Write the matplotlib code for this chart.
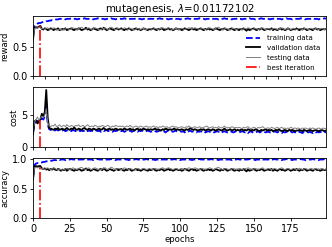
import matplotlib
matplotlib.use("Agg")
import matplotlib.pyplot as plt
import matplotlib.ticker as mticker
import numpy as np

title = r"mutagenesis, $\lambda$=0.01172102"
best_iter = 5
xticks = [0, 25, 50, 75, 100, 125, 150, 175]

reward_train = [
    0.75,0.86,0.88,0.89,0.90,0.90,0.91,0.92,0.92,0.93,0.93,0.94,0.94,0.95,0.95,0.96,0.96,0.96,0.97,0.97,
    0.97,0.97,0.96,0.97,0.97,0.97,0.98,0.97,0.97,0.97,0.96,0.97,0.97,0.97,0.97,0.98,0.97,0.97,0.97,0.97,
    0.97,0.96,0.97,0.97,0.98,0.97,0.97,0.97,0.97,0.96,0.97,0.97,0.97,0.98,0.97,0.97,0.96,0.97,0.97,0.97,
    0.97,0.97,0.98,0.97,0.97,0.96,0.97,0.97,0.97,0.97,0.98,0.97,0.97,0.97,0.96,0.97,0.97,0.98,0.97,0.97,
    0.97,0.97,0.97,0.96,0.97,0.97,0.98,0.97,0.97,0.97,0.97,0.97,0.96,0.97,0.97,0.97,0.98,0.97,0.97,0.97,
    0.96,0.97,0.97,0.97,0.97,0.98,0.97,0.97,0.96,0.97,0.97,0.97,0.97,0.98,0.97,0.97,0.97,0.96,0.97,0.97,
    0.97,0.98,0.97,0.97,0.97,0.97,0.96,0.97,0.97,0.97,0.98,0.97,0.97,0.97,0.97,0.96,0.97,0.97,0.97,0.98,
    0.97,0.97,0.96,0.97,0.97,0.97,0.97,0.98,0.97,0.97,0.97,0.96,0.97,0.97,0.97,0.98,0.97,0.97,0.97,0.97,
    0.97,0.96,0.97,0.97,0.98,0.97,0.97,0.97,0.97,0.96,0.97,0.97,0.98,0.97,0.97,0.97,0.96,0.97,0.97,0.97,
    0.97,0.97,0.98,0.97,0.97,0.96,0.97,0.97,0.97,0.97,0.98,0.97,0.97,0.97,0.96,0.97,0.97,0.97,0.98,0.97,
]
reward_val = [
    0.62,0.82,0.83,0.82,0.84,0.85,0.80,0.79,0.81,0.80,0.78,0.79,0.81,0.80,0.78,0.80,0.79,0.81,0.78,0.79,
    0.80,0.79,0.81,0.78,0.79,0.80,0.81,0.79,0.78,0.80,0.79,0.81,0.80,0.78,0.79,0.80,0.82,0.79,0.80,0.78,
    0.79,0.81,0.80,0.79,0.78,0.80,0.81,0.79,0.82,0.80,0.78,0.79,0.81,0.80,0.79,0.78,0.80,0.81,0.79,0.80,
    0.81,0.79,0.78,0.80,0.79,0.81,0.80,0.78,0.79,0.80,0.81,0.79,0.80,0.78,0.79,0.81,0.80,0.79,0.78,0.80,
    0.79,0.80,0.81,0.79,0.78,0.80,0.79,0.81,0.80,0.78,0.79,0.80,0.81,0.79,0.80,0.78,0.79,0.81,0.80,0.79,
    0.80,0.78,0.79,0.81,0.80,0.79,0.78,0.80,0.81,0.79,0.80,0.78,0.79,0.80,0.81,0.79,0.78,0.80,0.79,0.81,
    0.79,0.80,0.78,0.79,0.81,0.80,0.79,0.78,0.80,0.79,0.81,0.80,0.78,0.79,0.80,0.81,0.79,0.78,0.80,0.79,
    0.78,0.80,0.79,0.81,0.79,0.77,0.80,0.78,0.79,0.80,0.81,0.79,0.78,0.80,0.79,0.81,0.80,0.78,0.79,0.80,
    0.80,0.79,0.81,0.78,0.80,0.79,0.78,0.80,0.81,0.79,0.80,0.78,0.79,0.81,0.80,0.78,0.79,0.80,0.79,0.81,
    0.79,0.78,0.80,0.79,0.81,0.80,0.78,0.79,0.80,0.79,0.78,0.80,0.81,0.79,0.80,0.78,0.79,0.80,0.79,0.80,
]
reward_test = [
    0.65,0.80,0.82,0.81,0.83,0.82,0.80,0.81,0.79,0.81,0.82,0.80,0.79,0.80,0.82,0.81,0.79,0.78,0.80,0.79,
    0.78,0.79,0.80,0.81,0.80,0.79,0.80,0.82,0.81,0.80,0.79,0.81,0.82,0.83,0.81,0.80,0.79,0.81,0.82,0.80,
    0.79,0.81,0.82,0.81,0.80,0.78,0.79,0.80,0.81,0.82,0.80,0.79,0.81,0.83,0.82,0.80,0.79,0.80,0.81,0.80,
    0.79,0.80,0.82,0.81,0.80,0.79,0.81,0.80,0.79,0.78,0.80,0.81,0.80,0.79,0.80,0.81,0.80,0.79,0.80,0.81,
    0.80,0.79,0.80,0.81,0.80,0.79,0.80,0.81,0.82,0.81,0.80,0.81,0.82,0.81,0.80,0.79,0.80,0.81,0.80,0.79,
    0.80,0.81,0.80,0.79,0.80,0.81,0.82,0.81,0.80,0.81,0.82,0.81,0.80,0.79,0.80,0.81,0.80,0.79,0.80,0.81,
    0.82,0.81,0.80,0.79,0.81,0.82,0.83,0.81,0.80,0.79,0.80,0.81,0.80,0.79,0.78,0.80,0.81,0.80,0.79,0.80,
    0.81,0.80,0.79,0.80,0.81,0.80,0.82,0.81,0.80,0.79,0.80,0.81,0.80,0.79,0.80,0.81,0.82,0.80,0.79,0.80,
    0.81,0.80,0.79,0.80,0.81,0.80,0.79,0.80,0.81,0.82,0.80,0.79,0.80,0.81,0.80,0.79,0.80,0.81,0.80,0.79,
    0.80,0.81,0.80,0.79,0.80,0.81,0.80,0.79,0.80,0.81,0.80,0.79,0.81,0.80,0.79,0.80,0.81,0.80,0.79,0.80,
]

cost_train = [
    2.3,3.6,4.0,4.1,3.8,4.2,4.5,4.3,4.8,6.5,3.5,2.8,2.7,2.6,2.7,2.6,2.8,2.6,2.7,2.5,
    2.6,2.7,2.5,2.6,2.7,2.6,2.5,2.7,2.6,2.5,2.6,2.7,2.5,2.6,2.5,2.6,2.7,2.5,2.6,2.5,
    2.6,2.5,2.7,2.6,2.5,2.6,2.4,2.6,2.5,2.6,2.7,2.5,2.6,2.5,2.4,2.6,2.5,2.6,2.5,2.6,
    2.5,2.6,2.4,2.5,2.6,2.5,2.6,2.4,2.5,2.6,2.5,2.4,2.6,2.5,2.6,2.5,2.4,2.5,2.6,2.5,
    2.4,2.5,2.6,2.5,2.4,2.5,2.6,2.5,2.4,2.5,2.3,2.5,2.6,2.4,2.5,2.4,2.5,2.6,2.4,2.5,
    2.5,2.4,2.5,2.3,2.5,2.4,2.5,2.6,2.4,2.5,2.4,2.3,2.5,2.4,2.5,2.4,2.5,2.3,2.4,2.5,
    2.4,2.5,2.4,2.3,2.4,2.5,2.4,2.5,2.3,2.4,2.5,2.4,2.3,2.4,2.5,2.4,2.3,2.4,2.5,2.4,
    2.3,2.4,2.5,2.4,2.3,2.4,2.2,2.4,2.5,2.3,2.4,2.3,2.4,2.5,2.3,2.4,2.3,2.4,2.3,2.4,
    2.4,2.3,2.4,2.3,2.5,2.4,2.3,2.4,2.3,2.2,2.4,2.3,2.4,2.3,2.4,2.5,2.3,2.4,2.3,2.4,
    2.3,2.4,2.3,2.2,2.4,2.3,2.4,2.3,2.4,2.3,2.2,2.4,2.3,2.4,2.3,2.4,2.3,2.2,2.4,2.3,
]
cost_val = [
    2.0,4.0,4.2,3.7,4.1,4.3,5.2,4.8,5.5,8.9,4.5,3.0,2.9,2.8,2.7,2.9,2.8,3.0,2.7,2.8,
    2.9,2.7,2.8,3.0,2.8,2.7,2.9,2.8,3.1,2.8,2.7,2.9,2.8,2.7,2.9,3.0,2.8,2.7,2.9,2.8,
    2.7,2.9,2.8,2.7,2.8,2.9,2.7,2.8,3.0,2.8,2.7,2.8,2.9,2.7,2.8,2.7,2.9,2.8,2.7,2.8,
    2.8,2.7,2.9,2.8,2.7,2.8,2.9,2.7,2.8,2.6,2.8,2.9,2.7,2.8,2.7,2.9,2.8,2.7,2.8,2.7,
    2.8,2.7,2.8,2.9,2.7,2.8,2.7,2.6,2.8,2.7,2.9,2.8,2.7,2.8,2.7,2.8,2.9,2.7,2.8,2.7,
    2.7,2.8,2.7,2.6,2.8,2.7,2.8,3.0,2.8,2.7,2.8,2.7,2.6,2.7,2.8,2.7,2.8,2.6,2.7,2.8,
    2.7,2.6,2.8,2.7,2.6,2.7,2.8,2.7,2.6,2.7,2.9,2.7,2.6,2.7,2.8,2.6,2.7,2.8,2.6,2.7,
    2.6,2.7,2.8,2.6,2.7,2.6,2.8,2.7,2.6,2.7,2.6,2.8,2.7,2.6,2.5,2.7,2.6,2.7,2.8,2.6,
    2.7,2.6,2.7,2.5,2.6,2.7,2.6,2.8,2.6,2.5,2.6,2.7,2.6,2.5,2.7,2.6,2.7,2.6,2.5,2.6,
    2.6,2.7,2.6,2.5,2.7,2.6,2.5,2.6,2.7,2.6,2.5,2.6,2.7,2.6,2.5,2.6,2.7,2.6,2.5,2.6,
]
cost_test = [
    2.5,3.8,4.3,4.7,4.2,4.5,4.8,4.6,5.0,6.0,3.8,3.3,3.2,3.4,3.3,3.6,3.2,3.3,3.5,3.2,
    3.3,3.4,3.2,3.5,3.3,3.2,3.4,3.3,3.2,3.4,3.3,3.5,3.2,3.3,3.4,3.2,3.3,3.5,3.3,3.2,
    3.3,3.2,3.4,3.3,3.1,3.3,3.2,3.4,3.3,3.2,3.3,3.4,3.2,3.1,3.3,3.2,3.4,3.3,3.2,3.3,
    3.2,3.3,3.1,3.2,3.3,3.2,3.4,3.2,3.1,3.2,3.3,3.2,3.1,3.3,3.2,3.1,3.2,3.3,3.1,3.2,
    3.1,3.2,3.3,3.1,3.2,3.0,3.2,3.1,3.3,3.2,3.1,3.2,3.0,3.1,3.2,3.3,3.1,3.2,3.1,3.0,
    3.1,3.2,3.1,3.0,3.2,3.1,3.3,3.1,3.0,3.1,3.2,3.1,3.0,3.2,3.1,3.0,3.1,3.2,3.3,3.1,
    3.0,3.1,3.2,3.0,3.1,3.0,3.2,3.1,3.0,3.1,3.3,3.1,3.0,3.1,3.0,3.2,3.1,3.0,3.1,3.0,
    3.1,3.0,2.9,3.1,3.0,3.1,3.2,3.0,2.9,3.0,3.1,3.0,2.9,3.1,3.0,3.1,3.2,3.0,2.9,3.0,
    3.0,2.9,3.1,3.0,2.9,3.0,3.1,2.9,3.0,3.1,2.9,3.0,2.8,3.0,2.9,3.1,3.0,2.9,3.0,2.9,
    3.0,2.9,2.8,3.0,2.9,3.0,2.9,2.8,3.0,2.9,3.0,2.9,2.8,2.9,3.0,2.9,2.8,3.0,2.9,2.9,
]

acc_train = [
    0.70,0.90,0.92,0.93,0.93,0.94,0.94,0.95,0.95,0.96,0.96,0.97,0.97,0.97,0.98,0.98,0.98,0.99,0.98,0.99,
    0.99,0.99,0.98,0.99,0.99,0.99,1.00,0.99,0.99,0.99,0.98,0.99,0.99,0.99,0.99,1.00,0.99,0.99,0.99,0.99,
    0.99,0.98,0.99,0.99,1.00,0.99,0.99,0.99,0.99,0.98,0.99,0.99,0.99,1.00,0.99,0.99,0.98,0.99,0.99,0.99,
    0.99,0.99,1.00,0.99,0.99,0.98,0.99,0.99,0.99,0.99,1.00,0.99,0.99,0.99,0.98,0.99,0.99,1.00,0.99,0.99,
    0.99,0.99,0.99,0.98,0.99,0.99,1.00,0.99,0.99,0.99,0.99,0.99,0.98,0.99,0.99,0.99,1.00,0.99,0.99,0.99,
    0.98,0.99,0.99,0.99,0.99,1.00,0.99,0.99,0.98,0.99,0.99,0.99,0.99,1.00,0.99,0.99,0.99,0.98,0.99,0.99,
    0.99,1.00,0.99,0.99,0.99,0.99,0.98,0.99,0.99,0.99,1.00,0.99,0.99,0.99,0.99,0.98,0.99,0.99,0.99,1.00,
    0.99,0.99,0.98,0.99,0.99,0.99,0.99,1.00,0.99,0.99,0.99,0.98,0.99,0.99,0.99,1.00,0.99,0.99,0.99,0.99,
    0.99,0.98,0.99,0.99,1.00,0.99,0.99,0.99,0.99,0.98,0.99,0.99,1.00,0.99,0.99,0.99,0.98,0.99,0.99,0.99,
    0.99,0.99,1.00,0.99,0.99,0.98,0.99,0.99,0.99,0.99,1.00,0.99,0.99,0.99,0.98,0.99,0.99,0.99,1.00,0.99,
]
acc_val = [
    0.65,0.87,0.88,0.87,0.88,0.88,0.84,0.83,0.84,0.82,0.83,0.81,0.83,0.82,0.84,0.82,0.81,0.83,0.82,0.80,
    0.82,0.81,0.83,0.80,0.82,0.83,0.82,0.81,0.80,0.82,0.81,0.83,0.82,0.80,0.81,0.82,0.84,0.81,0.82,0.80,
    0.81,0.83,0.82,0.81,0.80,0.82,0.83,0.81,0.84,0.82,0.80,0.81,0.83,0.82,0.81,0.80,0.82,0.83,0.81,0.82,
    0.83,0.81,0.80,0.82,0.81,0.83,0.82,0.80,0.81,0.82,0.83,0.81,0.82,0.80,0.81,0.83,0.82,0.81,0.80,0.82,
    0.81,0.82,0.83,0.81,0.80,0.82,0.81,0.83,0.82,0.80,0.81,0.82,0.83,0.81,0.82,0.80,0.81,0.83,0.82,0.81,
    0.82,0.80,0.81,0.83,0.82,0.81,0.80,0.82,0.83,0.81,0.82,0.80,0.81,0.82,0.83,0.81,0.80,0.82,0.81,0.83,
    0.81,0.82,0.80,0.81,0.83,0.82,0.81,0.80,0.82,0.81,0.83,0.82,0.80,0.81,0.82,0.83,0.81,0.80,0.82,0.81,
    0.80,0.82,0.81,0.83,0.81,0.79,0.82,0.80,0.81,0.82,0.83,0.81,0.80,0.82,0.81,0.83,0.82,0.80,0.81,0.82,
    0.82,0.81,0.83,0.80,0.82,0.81,0.80,0.82,0.83,0.81,0.82,0.80,0.81,0.83,0.82,0.80,0.81,0.82,0.81,0.83,
    0.81,0.80,0.82,0.81,0.83,0.82,0.80,0.81,0.82,0.81,0.80,0.82,0.83,0.81,0.82,0.80,0.81,0.82,0.81,0.82,
]
acc_test = [
    0.66,0.85,0.86,0.85,0.86,0.85,0.83,0.84,0.82,0.84,0.85,0.83,0.82,0.83,0.85,0.84,0.82,0.81,0.83,0.82,
    0.81,0.82,0.83,0.84,0.83,0.82,0.83,0.85,0.84,0.83,0.82,0.84,0.85,0.86,0.84,0.83,0.82,0.84,0.85,0.83,
    0.82,0.84,0.85,0.84,0.83,0.81,0.82,0.83,0.84,0.85,0.83,0.82,0.84,0.86,0.85,0.83,0.82,0.83,0.84,0.83,
    0.82,0.83,0.85,0.84,0.83,0.82,0.84,0.83,0.82,0.81,0.83,0.84,0.83,0.82,0.83,0.84,0.83,0.82,0.83,0.84,
    0.83,0.82,0.83,0.84,0.83,0.82,0.83,0.84,0.85,0.84,0.83,0.84,0.85,0.84,0.83,0.82,0.83,0.84,0.83,0.82,
    0.83,0.84,0.83,0.82,0.83,0.84,0.85,0.84,0.83,0.84,0.85,0.84,0.83,0.82,0.83,0.84,0.83,0.82,0.83,0.84,
    0.85,0.84,0.83,0.82,0.84,0.85,0.86,0.84,0.83,0.82,0.83,0.84,0.83,0.82,0.81,0.83,0.84,0.83,0.82,0.83,
    0.84,0.83,0.82,0.83,0.84,0.83,0.85,0.84,0.83,0.82,0.83,0.84,0.83,0.82,0.83,0.84,0.85,0.83,0.82,0.83,
    0.84,0.83,0.82,0.83,0.84,0.83,0.82,0.83,0.84,0.85,0.83,0.82,0.83,0.84,0.83,0.82,0.83,0.84,0.83,0.82,
    0.83,0.84,0.83,0.82,0.83,0.84,0.83,0.82,0.83,0.84,0.83,0.82,0.84,0.83,0.82,0.83,0.84,0.83,0.82,0.83,
]

epochs = np.arange(len(reward_val))

panels = [
    ("reward", reward_train, reward_val, reward_test, (0, 1.017), [0.0, 0.5]),
    ("cost", cost_train, cost_val, cost_test, (0, 9.38), [0, 5]),
    ("accuracy", acc_train, acc_val, acc_test, (0, 1.02), [0.0, 0.5, 1.0]),
]

fig, axes = plt.subplots(3, 1, figsize=(3.32, 2.47), dpi=100)
fig.subplots_adjust(left=0.0994, right=0.982, top=0.935, bottom=0.117, hspace=0.174)

for i, (ax, (name, tr, va, te, ylim, yt)) in enumerate(zip(axes, panels)):
    ax.plot(epochs, tr, color="blue", ls="--", lw=1.3, label="training data")
    ax.plot(epochs, va, color="black", ls="-", lw=1.3, label="validation data")
    ax.plot(epochs, te, color="gray", ls="-", lw=0.7, label="testing data")
    ax.plot([best_iter, best_iter], [0, va[best_iter]], color="red", ls="-.", lw=1.2,
            label="best iteration")
    ax.set_xlim(0, len(epochs) - 1)
    ax.set_ylim(*ylim)
    ax.set_yticks(yt)
    ax.set_ylabel(name, fontsize=6, labelpad=2)
    ax.tick_params(labelsize=7, length=2.5, width=0.6, pad=1.5)
    if i < 2:
        ax.xaxis.set_major_locator(mticker.MultipleLocator(25 / 3))
        ax.set_xticklabels([])
    else:
        ax.set_xticks(xticks)
    for s in ax.spines.values():
        s.set_linewidth(0.6)

axes[0].set_title(title, fontsize=7.4, pad=3)
axes[0].legend(loc="lower right", fontsize=5.1, frameon=False, handlelength=1.9,
               labelspacing=0.55, handletextpad=1.0, borderaxespad=0.4)
axes[2].set_xlabel("epochs", fontsize=6.1, labelpad=1)

fig.savefig("out.png", dpi=100)
